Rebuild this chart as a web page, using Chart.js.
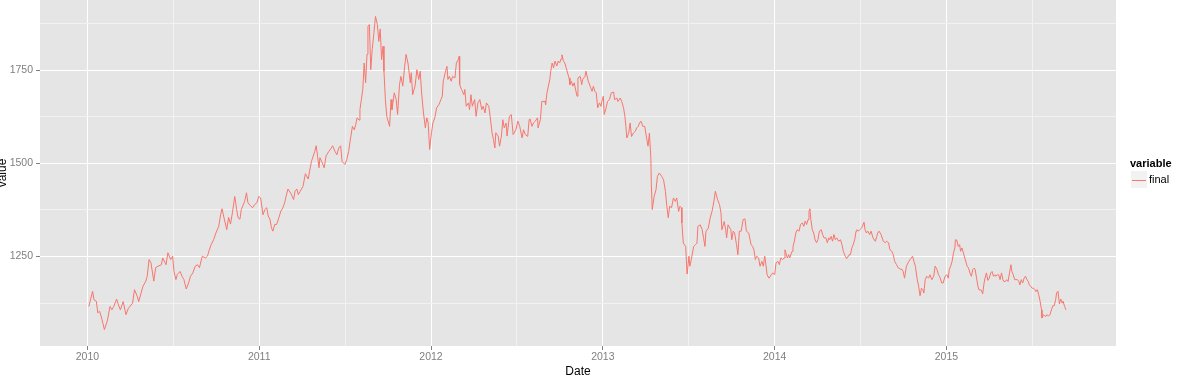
<!DOCTYPE html>
<html>
<head>
<meta charset="utf-8">
<script src="https://cdn.jsdelivr.net/npm/chart.js@4.4.1/dist/chart.umd.min.js"></script>
<style>
html,body{margin:0;padding:0;background:#ffffff;}
#wrap{width:1178px;height:378px;position:relative;}
</style>
</head>
<body>
<div id="wrap"><canvas id="c" width="1178" height="378"></canvas></div>
<script>
// ---- labels ----
const seriesName = 'final';
const legendTitle = 'variable';
const xTitle = 'Date';
const yTitle = 'value';
const yearTicks = [2010, 2011, 2012, 2013, 2014, 2015];
const valueTicks = [1250, 1500, 1750];

// ---- data (dates as MM-DD per year) ----
const dates2010 = ['01-04','01-12','01-15','01-20','01-23','01-27',
  '02-01','02-06','02-12','02-18','02-22','02-26',
  '03-04','03-08','03-12','03-18','03-24','03-29',
  '04-07','04-11','04-17','04-20','04-25','04-29',
  '05-05','05-08','05-12','05-16','05-22','05-26','05-31',
  '06-07','06-10','06-17','06-21','06-27',
  '07-01','07-04','07-08','07-11','07-17','07-21','07-25','07-30',
  '08-04','08-08','08-13','08-18','08-23','08-27',
  '09-02','09-09','09-13','09-17','09-21','09-26',
  '10-01','10-07','10-11','10-14','10-18','10-24','10-28',
  '11-01','11-05','11-10','11-12','11-14','11-17','11-21','11-24',
  '12-01','12-05','12-08','12-14','12-18','12-22','12-27','12-31'];
const gold2010 = [1116,1157,1134,1130,1099,1103,
  1081,1054,1076,1116,1107,1116,
  1136,1120,1107,1129,1094,1111,
  1125,1161,1143,1129,1152,1170,
  1184,1197,1242,1233,1184,1220,1224,
  1228,1246,1228,1260,1242,
  1251,1210,1188,1202,1210,1197,1188,1163,
  1179,1197,1206,1224,1228,1220,
  1251,1246,1251,1268,1282,1295,
  1313,1331,1362,1378,1355,1322,1355,
  1337,1367,1411,1394,1376,1354,1350,1376,
  1398,1421,1394,1385,1381,1389,1394,1411];

const dates2011 = ['01-04','01-09','01-13','01-17','01-20','01-24','01-27','01-30',
  '02-03','02-07','02-12','02-16','02-20','02-24','02-27',
  '03-03','03-09','03-15','03-18','03-22','03-25','03-29',
  '04-04','04-09','04-15','04-18','04-22','04-29',
  '05-02','05-05','05-08','05-10','05-15','05-19','05-23','05-29',
  '06-03','06-06','06-11','06-15','06-19','06-23','06-26',
  '07-02','07-06','07-10','07-13','07-18','07-22','07-25','07-28',
  '08-01','08-03','08-06','08-09','08-12','08-15','08-18','08-20','08-23','08-26','08-29',
  '09-01','09-05','09-09','09-12','09-15','09-18','09-21','09-23','09-26','09-29',
  '10-05','10-08','10-10','10-15','10-19','10-22','10-26','10-29',
  '11-02','11-06','11-09','11-13','11-18','11-20','11-23','11-28',
  '12-02','12-06','12-09','12-12','12-16','12-20','12-23','12-26','12-29'];
const gold2011 = [1407,1362,1376,1381,1359,1349,1327,1318,
  1336,1336,1355,1372,1380,1394,1411,
  1431,1420,1403,1425,1431,1416,1425,
  1438,1472,1458,1479,1505,1532,
  1547,1519,1488,1515,1501,1488,1520,1532,
  1541,1547,1532,1523,1541,1547,1505,
  1497,1510,1532,1559,1599,1590,1604,1622,
  1616,1644,1671,1698,1769,1716,1792,1867,1872,1751,1805,
  1841,1894,1872,1827,1860,1778,1814,1747,1671,1626,
  1599,1671,1644,1689,1671,1631,1711,1733,
  1707,1760,1792,1769,1716,1743,1684,1707,
  1751,1725,1747,1689,1635,1595,1622,1608,1537];

const dates2012 = ['01-02','01-05','01-09','01-13','01-18','01-22','01-25','01-27',
  '02-01','02-04','02-06','02-09','02-13','02-16','02-21','02-24','02-28',
  '03-01','03-02','03-06','03-11','03-13','03-16','03-21','03-23','03-26','03-29',
  '04-03','04-06','04-10','04-14','04-18','04-21','04-25','04-28',
  '05-03','05-06','05-10','05-13','05-16','05-18','05-23','05-26','05-30',
  '06-02','06-05','06-09','06-11','06-16','06-20','06-24','06-30',
  '07-04','07-08','07-13','07-16','07-20','07-25','07-28','07-30',
  '08-03','08-06','08-10','08-15','08-16','08-21','08-24','08-31',
  '09-01','09-04','09-07','09-10','09-12','09-15','09-18','09-21','09-25','09-28',
  '10-01','10-04','10-06','10-09','10-12','10-15','10-18','10-21','10-23','10-26','10-29',
  '11-01','11-07','11-09','11-14','11-17','11-19','11-24','11-26',
  '12-01','12-05','12-09','12-12','12-15','12-18','12-21','12-25','12-28','12-30'];
const gold2012 = [1582,1608,1622,1649,1658,1671,1680,1720,
  1747,1760,1725,1733,1720,1733,1729,1769,1778,
  1787,1711,1698,1684,1698,1653,1662,1644,1684,1653,
  1671,1626,1662,1671,1644,1653,1635,1662,
  1653,1626,1582,1564,1541,1582,1573,1546,1573,
  1617,1595,1608,1573,1626,1631,1577,1591,
  1613,1599,1568,1590,1577,1572,1617,1619,
  1599,1608,1613,1622,1595,1617,1666,1666,
  1657,1689,1707,1725,1747,1769,1756,1774,1761,1774,
  1769,1780,1791,1774,1769,1756,1742,1729,1711,1720,1707,
  1716,1680,1729,1733,1711,1725,1733,1747,
  1720,1707,1693,1707,1693,1689,1649,1662,1653,1666];

const dates2013 = ['01-02','01-04','01-08','01-11','01-15','01-19','01-24','01-26','01-31',
  '02-02','02-07','02-10','02-14','02-17','02-19','02-21','02-25','02-28',
  '03-03','03-07','03-11','03-14','03-17','03-20','03-23','03-27','03-31',
  '04-04','04-07','04-10','04-13','04-14','04-16','04-20','04-24','04-27',
  '05-01','05-06','05-10','05-14','05-17','05-20','05-23','05-27','05-31',
  '06-04','06-07','06-11','06-14','06-17','06-18','06-21','06-26','06-29',
  '07-03','07-05','07-08','07-13','07-17','07-20','07-22','07-27','07-31',
  '08-03','08-06','08-08','08-13','08-17','08-21','08-25','08-28',
  '09-02','09-06','09-09','09-11','09-16','09-19','09-21','09-24','09-30',
  '10-02','10-05','10-08','10-12','10-15','10-18','10-22','10-26','10-30',
  '11-02','11-07','11-09','11-12','11-15','11-18','11-21','11-24','11-28',
  '12-01','12-05','12-08','12-11','12-13','12-16','12-20','12-25','12-28'];
const gold2013 = [1680,1631,1649,1666,1671,1689,1691,1671,1675,
  1666,1675,1666,1649,1625,1599,1568,1581,1608,
  1572,1581,1586,1595,1599,1608,1613,1599,1599,
  1568,1546,1581,1515,1448,1376,1411,1429,1465,
  1474,1465,1456,1425,1385,1354,1385,1381,1407,
  1398,1407,1371,1385,1381,1340,1286,1277,1203,
  1251,1224,1242,1277,1282,1286,1331,1335,1322,
  1300,1277,1317,1326,1353,1371,1398,1425,
  1402,1389,1367,1322,1344,1322,1300,1335,1322,
  1295,1318,1313,1282,1255,1318,1318,1349,1351,
  1318,1313,1300,1282,1277,1268,1242,1251,1246,
  1224,1237,1224,1251,1233,1201,1192,1201,1206];

const dates2014 = ['01-01','01-04','01-08','01-11','01-14','01-18','01-21','01-23','01-28','01-31',
  '02-02','02-07','02-09','02-12','02-15','02-18','02-22','02-25',
  '03-01','03-04','03-07','03-10','03-13','03-15','03-17','03-19','03-22','03-25','03-28','03-31',
  '04-03','04-06','04-10','04-13','04-16','04-20','04-23','04-26','04-28',
  '05-01','05-04','05-07','05-10','05-13','05-17','05-21','05-24','05-27','05-31',
  '06-03','06-06','06-08','06-11','06-14','06-17','06-20','06-23','06-25','06-28',
  '07-01','07-05','07-10','07-12','07-15','07-18','07-22','07-25','07-29',
  '08-03','08-06','08-08','08-11','08-15','08-20','08-24','08-27','08-31',
  '09-03','09-07','09-10','09-13','09-17','09-21','09-26','09-29',
  '10-01','10-04','10-08','10-13','10-17','10-21','10-24','10-27','10-31',
  '11-03','11-06','11-09','11-12','11-14','11-17','11-20','11-24','11-27',
  '12-01','12-05','12-08','12-12','12-15','12-18','12-22','12-25','12-29'];
const gold2014 = [1201,1233,1237,1228,1246,1242,1246,1268,1246,1255,
  1246,1264,1277,1291,1313,1322,1318,1336,
  1340,1331,1345,1336,1349,1371,1378,1349,1322,1313,1295,1287,
  1295,1318,1322,1309,1300,1300,1287,1300,1295,
  1304,1291,1309,1295,1300,1291,1295,1282,1264,1251,
  1244,1251,1255,1255,1273,1282,1295,1318,1322,1318,
  1322,1327,1342,1322,1313,1318,1309,1318,1300,
  1291,1304,1313,1318,1309,1291,1287,1291,1287,
  1268,1264,1255,1237,1228,1219,1216,1215,
  1210,1192,1224,1237,1244,1251,1237,1224,1188,
  1170,1145,1165,1161,1152,1188,1197,1192,1201,
  1188,1197,1224,1215,1201,1195,1179,1179,1197];

const dates2015 = ['01-02','01-05','01-07','01-10','01-13','01-16','01-19','01-20','01-23','01-26','01-29','01-31',
  '02-03','02-06','02-09','02-12','02-14','02-17','02-20','02-23','02-26',
  '03-01','03-03','03-06','03-09','03-11','03-16','03-19','03-22','03-24','03-27','03-30',
  '04-02','04-05','04-08','04-11','04-14','04-16','04-19','04-22','04-25','04-28',
  '05-01','05-03','05-06','05-09','05-12','05-15','05-18','05-20','05-23','05-26','05-29',
  '06-01','06-04','06-06','06-09','06-12','06-15','06-18','06-21','06-24','06-26','06-29',
  '07-02','07-05','07-08','07-10','07-13','07-16','07-19','07-22','07-23','07-26','07-29',
  '08-01','08-03','08-06','08-09','08-12','08-15','08-18','08-21','08-23','08-26','08-29',
  '09-01','09-04','09-06','09-09','09-12'];
const gold2015 = [1201,1192,1215,1224,1237,1260,1273,1295,1294,1277,1282,1264,
  1273,1260,1246,1233,1224,1219,1206,1197,1215,
  1219,1215,1192,1170,1161,1160,1150,1179,1192,1206,1186,
  1192,1206,1210,1197,1201,1197,1201,1201,1188,1206,
  1188,1183,1183,1188,1183,1206,1228,1210,1201,1188,1188,
  1188,1183,1174,1188,1179,1192,1197,1188,1183,1174,1170,
  1165,1165,1161,1156,1161,1148,1130,1107,1085,1094,1090,
  1090,1094,1090,1094,1107,1118,1118,1134,1152,1157,1123,
  1136,1125,1130,1116,1107];

// ---- build points (date -> fractional year) ----
function decYear(year, md) {
  const parts = md.split('-').map(Number);
  const t = Date.UTC(year, parts[0] - 1, parts[1]);
  const s = Date.UTC(year, 0, 1), e = Date.UTC(year + 1, 0, 1);
  return year + (t - s) / (e - s);
}
const yearly = [[2010, dates2010, gold2010], [2011, dates2011, gold2011], [2012, dates2012, gold2012],
                [2013, dates2013, gold2013], [2014, dates2014, gold2014], [2015, dates2015, gold2015]];
const points = [];
yearly.forEach(([yr, ds, vs]) => {
  const n = Math.min(ds.length, vs.length);
  for (let i = 0; i < n; i++) points.push({ x: decYear(yr, ds[i]), y: vs[i] });
});

const FONT = '"Liberation Sans", Arial, Helvetica, sans-serif';
const near = (arr, v) => arr.some(t => Math.abs(t - v) < 1e-6);

const panelBg = {
  id: 'panelBg',
  beforeDraw(chart) {
    const { ctx, chartArea: a } = chart;
    ctx.save();
    ctx.fillStyle = '#E5E5E5';
    ctx.fillRect(a.left, a.top, a.right - a.left, a.bottom - a.top);
    ctx.restore();
  }
};

const ggLegend = {
  id: 'ggLegend',
  afterDraw(chart) {
    const { ctx, chartArea: a } = chart;
    const ds = chart.data.datasets[0];
    const cy = (a.top + a.bottom) / 2;
    const x0 = a.right + 14;
    ctx.save();
    ctx.textAlign = 'left';
    ctx.textBaseline = 'middle';
    ctx.fillStyle = '#000000';
    ctx.font = 'bold 11px ' + FONT;
    ctx.fillText(legendTitle, x0, cy - 9);
    ctx.fillStyle = '#F2F2F2';
    ctx.fillRect(x0 + 1, cy - 2, 16, 17);
    ctx.strokeStyle = ds.borderColor;
    ctx.lineWidth = 1;
    ctx.beginPath();
    ctx.moveTo(x0 + 2, cy + 7.5);
    ctx.lineTo(x0 + 16, cy + 7.5);
    ctx.stroke();
    ctx.fillStyle = '#000000';
    ctx.font = '11px ' + FONT;
    ctx.fillText(ds.label, x0 + 19, cy + 7);
    ctx.restore();
  }
};

new Chart(document.getElementById('c'), {
  type: 'line',
  data: {
    datasets: [{
      label: seriesName,
      data: points,
      borderColor: '#F8766D',
      borderWidth: 1,
      pointRadius: 0,
      tension: 0,
      fill: false
    }]
  },
  options: {
    responsive: false,
    animation: false,
    devicePixelRatio: 1,
    events: [],
    layout: { padding: { left: 0, right: 62, top: 0, bottom: 0 } },
    plugins: { legend: { display: false }, tooltip: { enabled: false } },
    scales: {
      x: {
        type: 'linear',
        min: 2009.724,
        max: 2015.987,
        border: { display: false },
        ticks: {
          stepSize: 0.5,
          includeBounds: false,
          autoSkip: false,
          maxRotation: 0,
          minRotation: 0,
          padding: 1,
          color: '#7F7F7F',
          font: { family: FONT, size: 10.5 },
          callback: v => near(yearTicks, v) ? String(Math.round(v)) : ''
        },
        grid: {
          color: c => (c.tick && near(yearTicks, c.tick.value)) ? '#FFFFFF' : '#F2F2F2',
          lineWidth: 1,
          tickLength: 4,
          tickWidth: 1,
          tickColor: c => (c.tick && near(yearTicks, c.tick.value)) ? '#7F7F7F' : 'rgba(0,0,0,0)'
        },
        title: {
          display: true, text: xTitle, color: '#000000',
          font: { family: FONT, size: 12, lineHeight: 1 },
          padding: { top: 0, bottom: 0 }
        },
        afterFit: s => { s.height = 32; s.paddingLeft = 0; s.paddingRight = 0; }
      },
      y: {
        type: 'linear',
        min: 1010,
        max: 1938,
        border: { display: false },
        ticks: {
          stepSize: 125,
          includeBounds: false,
          padding: 3,
          color: '#7F7F7F',
          font: { family: FONT, size: 10.5 },
          callback: v => near(valueTicks, v) ? String(v) : ''
        },
        grid: {
          color: c => (c.tick && near(valueTicks, c.tick.value)) ? '#FFFFFF' : '#F2F2F2',
          lineWidth: 1,
          tickLength: 4,
          tickWidth: 1,
          tickColor: c => (c.tick && near(valueTicks, c.tick.value)) ? '#7F7F7F' : 'rgba(0,0,0,0)'
        },
        title: {
          display: true, text: yTitle, color: '#000000',
          font: { family: FONT, size: 12, lineHeight: 1 },
          padding: { top: -3, bottom: 0 }
        },
        afterFit: s => { s.width = 40; s.paddingTop = 0; s.paddingBottom = 0; }
      }
    }
  },
  plugins: [panelBg, ggLegend]
});
</script>
</body>
</html>
